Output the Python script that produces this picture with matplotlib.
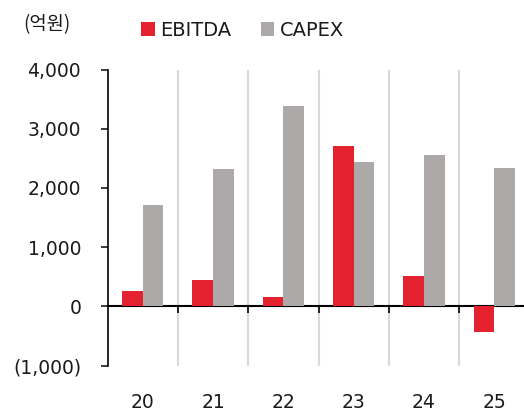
import matplotlib
matplotlib.use("Agg")
import matplotlib.pyplot as plt
import numpy as np

plt.rcParams['font.family'] = ['DejaVu Sans', 'Noto Sans CJK KR']

years = ['20', '21', '22', '23', '24', '25']
ebitda = [255, 455, 155, 2710, 515, -425]
capex = [1710, 2320, 3390, 2440, 2565, 2330]
yticks = [-1000, 0, 1000, 2000, 3000, 4000]
ytick_labels = ['(1,000)', '0', '1,000', '2,000', '3,000', '4,000']

RED = '#E4222F'
GRAY = '#ADA9A8'

fig = plt.figure(figsize=(5.24, 4.12), dpi=100)
ax = fig.add_axes([0.2052, 0.1124, 0.8053, 0.7189])

x = np.arange(len(years))
w = 0.295
ax.bar(x - w/2, ebitda, width=w, color=RED, label='EBITDA', zorder=3)
ax.bar(x + w/2, capex, width=w, color=GRAY, label='CAPEX', zorder=3)

ax.set_xlim(-0.5, len(years) - 0.5)
ax.set_ylim(-1000, 4000)

ax.set_yticks(yticks)
ax.set_yticklabels(ytick_labels)
ax.tick_params(axis='y', direction='out', length=5, width=1.2, pad=14, labelsize=13.5, colors='#1a1a1a')

ax.spines['top'].set_visible(False)
ax.spines['right'].set_visible(False)
ax.spines['left'].set_linewidth(1.2)
ax.spines['bottom'].set_position(('data', 0))
ax.spines['bottom'].set_linewidth(1.5)

ax.set_xticks(x)
ax.set_xticklabels(years)
ax.set_xticks(np.arange(0.5, len(years) - 0.5, 1), minor=True)
ax.tick_params(axis='x', which='major', length=0, pad=62, labelsize=13.5, labelcolor='#1a1a1a')
ax.tick_params(axis='x', which='minor', direction='out', length=5, width=1.2)
ax.grid(axis='x', which='minor', color='#D9D9D9', linewidth=1.5, zorder=0)
ax.set_axisbelow(True)

leg = fig.legend(loc='center', bbox_to_anchor=(0.463, 0.927), ncol=2, frameon=False,
                 fontsize=14, handlelength=0.7, handleheight=0.7, handletextpad=0.3,
                 columnspacing=1.5)
for t in leg.get_texts():
    t.set_color('#1a1a1a')
fig.text(0.044, 0.94, '(억원)', fontsize=13.5, va='center', ha='left',
         family=['Noto Sans CJK KR', 'DejaVu Sans'], color='#1a1a1a')

fig.savefig('out.png', dpi=100)
